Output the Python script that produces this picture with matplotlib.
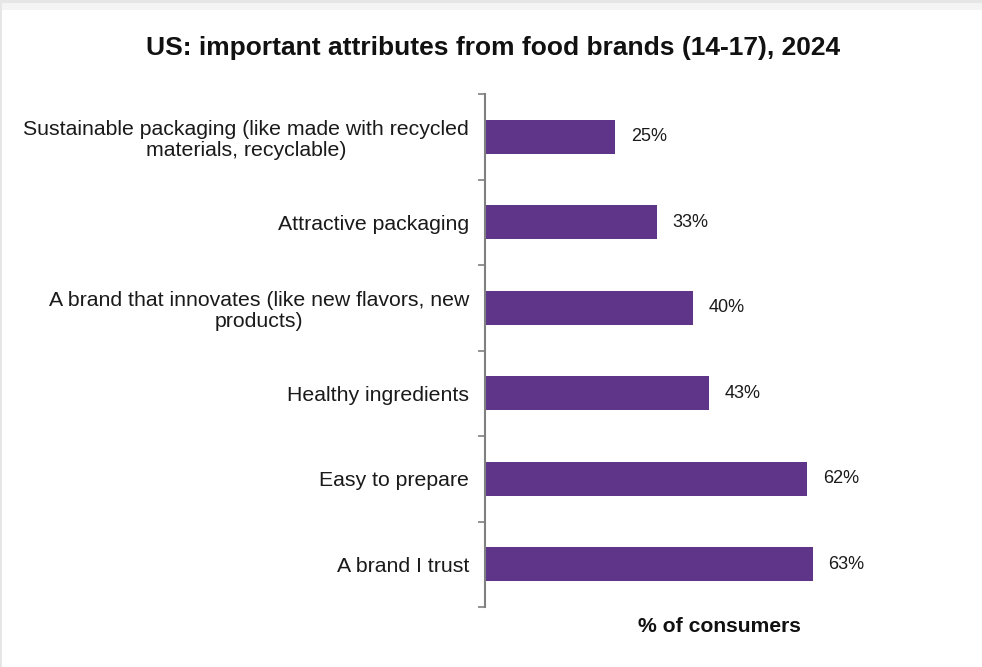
import matplotlib
matplotlib.use("Agg")
import matplotlib.pyplot as plt
from matplotlib.patches import Rectangle

categories = [
    "Sustainable packaging (like made with recycled\nmaterials, recyclable)",
    "Attractive packaging",
    "A brand that innovates (like new flavors, new\nproducts)",
    "Healthy ingredients",
    "Easy to prepare",
    "A brand I trust",
]
values = [25, 33, 40, 43, 62, 63]
value_labels = ["25%", "33%", "40%", "43%", "62%", "63%"]
title = "US: important attributes from food brands (14-17), 2024"
xlabel = "% of consumers"

plt.rcParams['font.family'] = ['Liberation Sans', 'DejaVu Sans']

W, H = 982, 667
fig = plt.figure(figsize=(W/100, H/100), dpi=100)
fig.patch.set_facecolor("white")

# light gray frame at top/left
fig.add_artist(Rectangle((0, 1 - 10/H), 1, 10/H, transform=fig.transFigure,
                         facecolor="#f4f4f4", edgecolor="none", zorder=0))
fig.add_artist(Rectangle((0, 1 - 3/H), 1, 3/H, transform=fig.transFigure,
                         facecolor="#e6e6e6", edgecolor="none", zorder=0))
fig.add_artist(Rectangle((0, 0), 2/W, 1, transform=fig.transFigure,
                         facecolor="#e6e6e6", edgecolor="none", zorder=0))

left, right = 485, 955
top, bottom = 94, 607
ax = fig.add_axes([left/W, 1 - bottom/H, (right-left)/W, (bottom-top)/H])
ax.set_facecolor("none")

n = len(categories)
ypos = list(range(n))
ax.barh(ypos, values, height=0.4, color="#5F3589", zorder=2)
ax.set_ylim(n - 0.5, -0.5)
ax.set_xlim(0, 90.4)

for y, v, lab in zip(ypos, values, value_labels):
    ax.annotate(lab, xy=(v, y), xytext=(16, 0), textcoords="offset pixels",
                ha="left", va="center", fontsize=13, color="#1a1a1a")

ax.set_yticks(ypos)
ax.set_yticklabels(categories, fontsize=15.3, color="#1a1a1a",
                   multialignment="center", linespacing=1.12)
ax.tick_params(axis="y", which="major", length=0, pad=11.5)
ax.set_yticks([i - 0.5 for i in range(n + 1)], minor=True)
ax.tick_params(axis="y", which="minor", length=5, width=1.2, color="#808080", direction="out")
ax.set_xticks([])

for s in ["top", "right", "bottom"]:
    ax.spines[s].set_visible(False)
ax.spines["left"].set_color("#808080")
ax.spines["left"].set_linewidth(1.5)

fig.text(719/W, 1 - 627/H, xlabel, ha="center", va="center", fontsize=15.2,
         fontweight="bold", color="#111111")
fig.text(493/W, 1 - 48/H, title, ha="center", va="center", fontsize=19,
         fontweight="bold", color="#111111")

fig.savefig("out.png", dpi=100)
